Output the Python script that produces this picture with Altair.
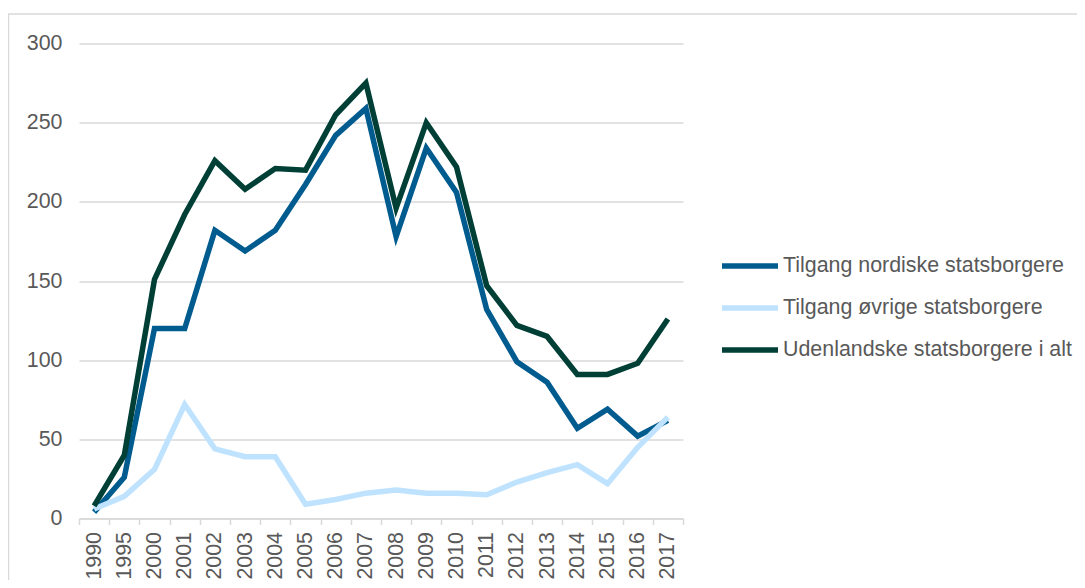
import altair as alt
import pandas as pd

years = ["1990", "1995", "2000", "2001", "2002", "2003", "2004", "2005", "2006", "2007",
         "2008", "2009", "2010", "2011", "2012", "2013", "2014", "2015", "2016", "2017"]
nordiske = [4, 26, 120, 120, 182, 169, 182, 211, 242, 259, 178, 234, 206, 132, 99, 86, 57, 69, 52, 62]
ovrige = [6, 14, 31, 72, 44, 39, 39, 9, 12, 16, 18, 16, 16, 15, 23, 29, 34, 22, 45, 64]
total = [8, 40, 151, 192, 226, 208, 221, 220, 255, 275, 196, 250, 222, 147, 122, 115, 91, 91, 98, 126]

series_names = ["Tilgang nordiske statsborgere", "Tilgang øvrige statsborgere",
                "Udenlandske statsborgere i alt"]
series_colors = ["#005B8F", "#BFE3FF", "#003F36"]
y_ticks = [0, 50, 100, 150, 200, 250, 300]

rows = []
for name, vals in zip(series_names, [nordiske, ovrige, total]):
    for yr, v in zip(years, vals):
        rows.append({"year": yr, "value": v, "series": name})
df = pd.DataFrame(rows)

FONT = "Liberation Sans"
GRAY = "#595959"
LIGHT = "#D9D9D9"
FS = 21.4

lines = alt.Chart(df).mark_line(strokeWidth=5.5, strokeCap="butt", strokeJoin="miter").encode(
    x=alt.X("year:O", sort=years, bandPosition=0.5,
            scale=alt.Scale(type="band", paddingInner=0, paddingOuter=0),
            axis=alt.Axis(title=None, labelAngle=-90, labelFontSize=FS, labelColor=GRAY,
                          labelFont=FONT, domainColor=LIGHT, tickColor=LIGHT, tickSize=6,
                          domainWidth=1.5, tickWidth=1.5,
                          tickBand="extent", labelPadding=7, grid=False)),
    y=alt.Y("value:Q", scale=alt.Scale(domain=[0, 300], nice=False),
            axis=alt.Axis(title=None, values=y_ticks, labelFontSize=FS, labelColor=GRAY,
                          labelFont=FONT, domain=False, ticks=False, labelPadding=17,
                          gridColor=LIGHT, gridWidth=1.5)),
    color=alt.Color("series:N", sort=series_names,
                    scale=alt.Scale(domain=series_names, range=series_colors),
                    legend=alt.Legend(title=None, orient="none", legendX=640, legendY=191.5,
                                      symbolType="stroke", symbolSize=3136, symbolStrokeWidth=5.5,
                                      labelFontSize=FS, labelColor=GRAY, labelFont=FONT,
                                      labelOffset=2, rowPadding=-5.9, labelLimit=400)),
    order=alt.Order("year:O"),
)

frame = alt.Chart(alt.Data(values=[{"a": 1}])).mark_rect(
    fill=None, stroke=LIGHT, strokeWidth=1.5
).encode(
    x=alt.value(-70.5), x2=alt.value(1004), y=alt.value(-29.5), y2=alt.value(560)
)

chart = alt.layer(frame, lines).properties(
    width=604, height=475,
    autosize=alt.AutoSizeParams(type="none"),
    padding={"left": 71, "top": 35.5, "right": 394, "bottom": 61.5},
    background="white",
).configure_view(stroke=None)

chart.save("out.html", embed_options={"renderer": "svg", "actions": False})
